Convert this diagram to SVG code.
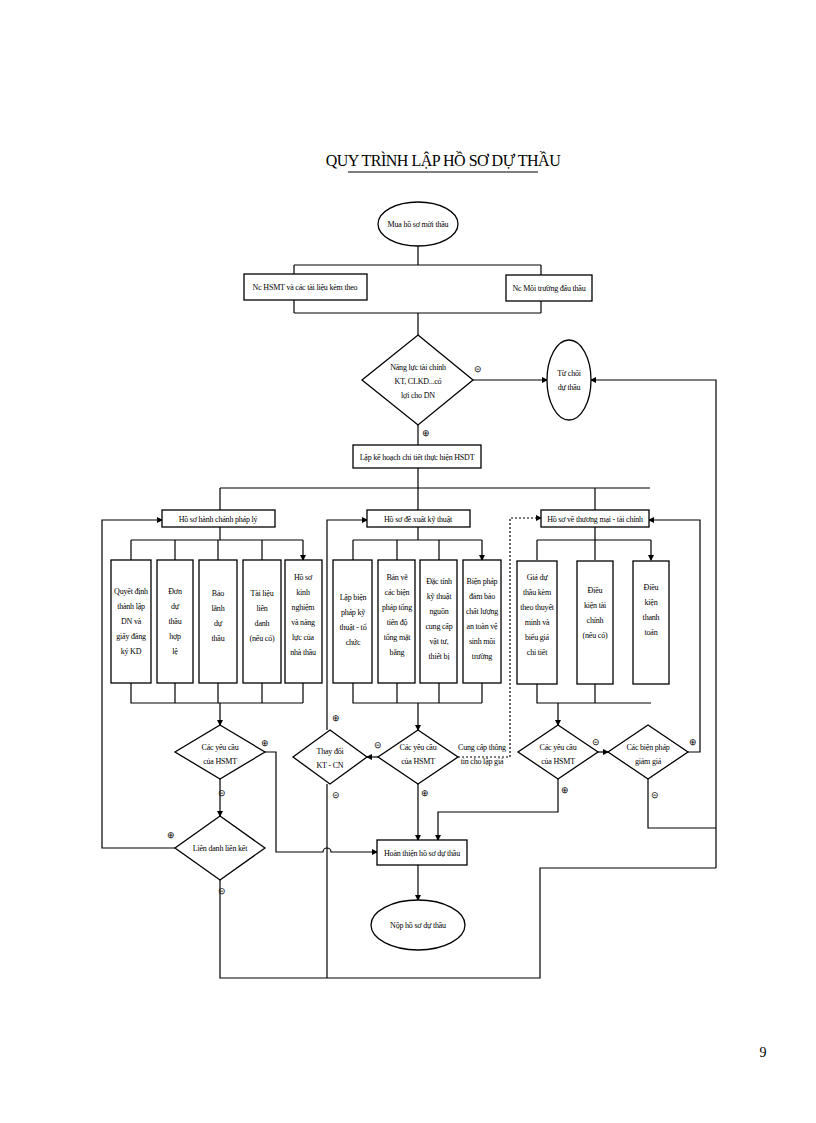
<svg xmlns="http://www.w3.org/2000/svg" width="816" height="1123" viewBox="0 0 816 1123">
<style>
text{font-family:"Liberation Serif",serif;font-size:8px;fill:#000;text-anchor:middle;letter-spacing:-0.2px}
.s{fill:#fff;stroke:#000;stroke-width:1.3}
.l{fill:none;stroke:#000;stroke-width:1.2}
.d{fill:none;stroke:#000;stroke-width:1.2;stroke-dasharray:2,2}
.t{font-size:16px;letter-spacing:-0.5px}
.sg{font-size:9px}
</style>
<defs><marker id="a" markerWidth="6" markerHeight="6" refX="5" refY="3" orient="auto" markerUnits="userSpaceOnUse"><path d="M0,0L6,3L0,6z"/></marker></defs>
<rect width="816" height="1123" fill="#fff"/>
<text x="443" y="166" class="t">QUY TRÌNH LẬP HỒ SƠ DỰ THẦU</text>
<line x1="348" y1="172" x2="538" y2="172" stroke="#000"/>
<g id="connectors">
<path class="l" d="M418,246V265M294,265H541M294,265V274M541,265V275M294,300V313M541,301V313M294,313H541M418,313V335"/>
<path class="l" d="M473,380H547" marker-end="url(#a)"/>
<path class="l" d="M716,868V380H591" marker-end="url(#a)"/>
<path class="l" d="M418,425V445"/>
<path class="l" d="M418,468V488M220,488H650M220,488V510M418,488V510M595,488V510"/>
<path class="l" d="M220,527V540M131,540H303M131,540V560M175,540V560M218,540V560M262,540V560M303,540V560" marker-end="url(#a)"/>
<path class="l" d="M131,683V703H303M175,683V703M218,683V703M262,683V703M303,683V703M220,703V725" marker-end="url(#a)"/>
<path class="l" d="M418,527V540M353,540H482M353,540V560M397,540V560M439,540V560M482,540V560" marker-end="url(#a)"/>
<path class="l" d="M353,683V703H482M397,683V703M439,683V703M482,683V703M418,703V730" marker-end="url(#a)"/>
<path class="l" d="M595,527V540M537,540H651M537,540V560M595,540V560M651,540V560" marker-end="url(#a)"/>
<path class="l" d="M537,683V703H651M595,683V703M558,703V725" marker-end="url(#a)"/>
<path class="l" d="M265,752H276V852H323A4,4 0 0 1 331,852H377" marker-end="url(#a)"/>
<path class="l" d="M220,779V816" marker-end="url(#a)"/>
<path class="l" d="M175,848H102V520H162" marker-end="url(#a)"/>
<path class="l" d="M220,880V978H540V868H716"/>
<path class="l" d="M378,757H367" marker-end="url(#a)"/>
<path class="l" d="M327,730V520H367" marker-end="url(#a)"/>
<path class="l" d="M327,784V978"/>
<path class="l" d="M418,784V840" marker-end="url(#a)"/>
<path class="d" d="M458,757H510V518H541" marker-end="url(#a)"/>
<path class="l" d="M558,779V812H438V840" marker-end="url(#a)"/>
<path class="l" d="M598,752H608" marker-end="url(#a)"/>
<path class="l" d="M688,752H700V520H649" marker-end="url(#a)"/>
<path class="l" d="M648,779V828H716"/>
<path class="l" d="M418,865V900" marker-end="url(#a)"/>
</g>
<g id="start"><ellipse class="s" cx="418" cy="224" rx="40" ry="22"/><text x="418" y="227">Mua hồ sơ mời thầu</text></g>
<g id="n1"><rect class="s" x="244" y="274" width="123" height="26"/><text x="305" y="290">Nc HSMT và các tài liệu kèm theo</text></g>
<g id="n2"><rect class="s" x="506" y="275" width="86" height="26"/><text x="549" y="291">Nc Môi trường đấu thầu</text></g>
<g id="d0"><polygon class="s" points="418,335 473,380 418,425 362,380"/><text x="418" y="370">Năng lực tài chính</text><text x="418" y="384">KT, CLKD...có</text><text x="418" y="398">lợi cho DN</text></g>
<text x="478" y="372" class="sg">⊝</text><text x="426" y="436" class="sg">⊕</text>
<g id="reject"><ellipse class="s" cx="569" cy="380" rx="22" ry="40"/><text x="569" y="376">Từ chối</text><text x="569" y="390">dự thầu</text></g>
<g id="plan"><rect class="s" x="353" y="445" width="128" height="23"/><text x="417" y="460">Lập kế hoạch chi tiết thực hiện HSDT</text></g>
<g id="h1"><rect class="s" x="162" y="510" width="113" height="17"/><text x="218" y="522">Hồ sơ hành chánh pháp lý</text></g>
<g id="h2"><rect class="s" x="367" y="510" width="103" height="17"/><text x="418" y="522">Hồ sơ đề xuất kỹ thuật</text></g>
<g id="h3"><rect class="s" x="541" y="510" width="108" height="17"/><text x="595" y="522">Hồ sơ về thương mại - tài chính</text></g>
<g id="b1"><rect class="s" x="111" y="560" width="40" height="123"/><text x="131" y="594">Quyết định</text><text x="131" y="609">thành lập</text><text x="131" y="624">DN và</text><text x="131" y="639">giấy đăng</text><text x="131" y="654">ký KD</text></g>
<g id="b2"><rect class="s" x="157" y="560" width="36" height="123"/><text x="175" y="594">Đơn</text><text x="175" y="609">dự</text><text x="175" y="624">thầu</text><text x="175" y="639">hợp</text><text x="175" y="654">lệ</text></g>
<g id="b3"><rect class="s" x="199" y="560" width="38" height="123"/><text x="218" y="596">Bảo</text><text x="218" y="611">lãnh</text><text x="218" y="626">dự</text><text x="218" y="641">thầu</text></g>
<g id="b4"><rect class="s" x="243" y="560" width="38" height="123"/><text x="262" y="596">Tài liệu</text><text x="262" y="611">liên</text><text x="262" y="626">danh</text><text x="262" y="641">(nếu có)</text></g>
<g id="b5"><rect class="s" x="285" y="560" width="37" height="123"/><text x="303" y="580">Hồ sơ</text><text x="303" y="595">kinh</text><text x="303" y="610">nghiệm</text><text x="303" y="625">và năng</text><text x="303" y="640">lực của</text><text x="303" y="655">nhà thầu</text></g>
<g id="c1"><rect class="s" x="333" y="560" width="39" height="123"/><text x="353" y="600">Lập biện</text><text x="353" y="615">pháp kỹ</text><text x="353" y="630">thuật - tổ</text><text x="353" y="645">chức</text></g>
<g id="c2"><rect class="s" x="378" y="560" width="37" height="123"/><text x="397" y="580">Bản vẽ</text><text x="397" y="595">các biện</text><text x="397" y="610">pháp tổng</text><text x="397" y="625">tiến độ</text><text x="397" y="640">tổng mặt</text><text x="397" y="655">bằng</text></g>
<g id="c3"><rect class="s" x="420" y="560" width="37" height="123"/><text x="439" y="584">Đặc tính</text><text x="439" y="599">kỹ thuật</text><text x="439" y="614">nguồn</text><text x="439" y="629">cung cấp</text><text x="439" y="644">vật tư,</text><text x="439" y="659">thiết bị</text></g>
<g id="c4"><rect class="s" x="463" y="560" width="38" height="123"/><text x="482" y="584">Biện pháp</text><text x="482" y="599">đảm bảo</text><text x="482" y="614">chất lượng</text><text x="482" y="629">an toàn vệ</text><text x="482" y="644">sinh môi</text><text x="482" y="659">trường</text></g>
<g id="e1"><rect class="s" x="517" y="561" width="40" height="123"/><text x="537" y="580">Giá dự</text><text x="537" y="595">thầu kèm</text><text x="537" y="610">theo thuyết</text><text x="537" y="625">minh và</text><text x="537" y="640">biểu giá</text><text x="537" y="655">chi tiết</text></g>
<g id="e2"><rect class="s" x="577" y="561" width="36" height="123"/><text x="595" y="593">Điều</text><text x="595" y="608">kiện tài</text><text x="595" y="623">chính</text><text x="595" y="638">(nếu có)</text></g>
<g id="e3"><rect class="s" x="633" y="561" width="36" height="123"/><text x="651" y="590">Điều</text><text x="651" y="605">kiện</text><text x="651" y="620">thanh</text><text x="651" y="635">toán</text></g>
<g id="q1"><polygon class="s" points="220,725 265,752 220,779 175,752"/><text x="220" y="750">Các yêu cầu</text><text x="220" y="764">của HSMT</text></g>
<text x="265" y="746" class="sg">⊕</text><text x="222" y="796" class="sg">⊝</text>
<g id="q2"><polygon class="s" points="220,816 265,848 220,880 175,848"/><text x="220" y="851">Liên danh liên kết</text></g>
<text x="171" y="838" class="sg">⊕</text><text x="222" y="894" class="sg">⊝</text>
<g id="q3"><polygon class="s" points="330,730 367,757 330,784 293,757"/><text x="330" y="754">Thay đổi</text><text x="330" y="768">KT - CN</text></g>
<text x="336" y="721" class="sg">⊕</text><text x="336" y="798" class="sg">⊝</text>
<g id="q4"><polygon class="s" points="418,730 458,757 418,784 378,757"/><text x="418" y="750">Các yêu cầu</text><text x="418" y="764">của HSMT</text></g>
<text x="378" y="748" class="sg">⊝</text><text x="425" y="796" class="sg">⊕</text>
<text x="482" y="750">Cung cấp thông</text><text x="482" y="764">tin cho lập giá</text>
<g id="q5"><polygon class="s" points="558,725 598,752 558,779 518,752"/><text x="558" y="750">Các yêu cầu</text><text x="558" y="764">của HSMT</text></g>
<text x="596" y="745" class="sg">⊝</text><text x="565" y="793" class="sg">⊕</text>
<g id="q6"><polygon class="s" points="648,725 688,752 648,779 608,752"/><text x="648" y="750">Các biện pháp</text><text x="648" y="764">giảm giá</text></g>
<text x="693" y="745" class="sg">⊕</text><text x="655" y="798" class="sg">⊝</text>
<g id="fin"><rect class="s" x="377" y="840" width="90" height="25"/><text x="422" y="856">Hoàn thiện hồ sơ dự thầu</text></g>
<g id="end"><ellipse class="s" cx="418" cy="925" rx="47" ry="25"/><text x="418" y="928">Nộp hồ sơ dự thầu</text></g>
<text x="763" y="1057" style="font-size:14px">9</text>
</svg>
